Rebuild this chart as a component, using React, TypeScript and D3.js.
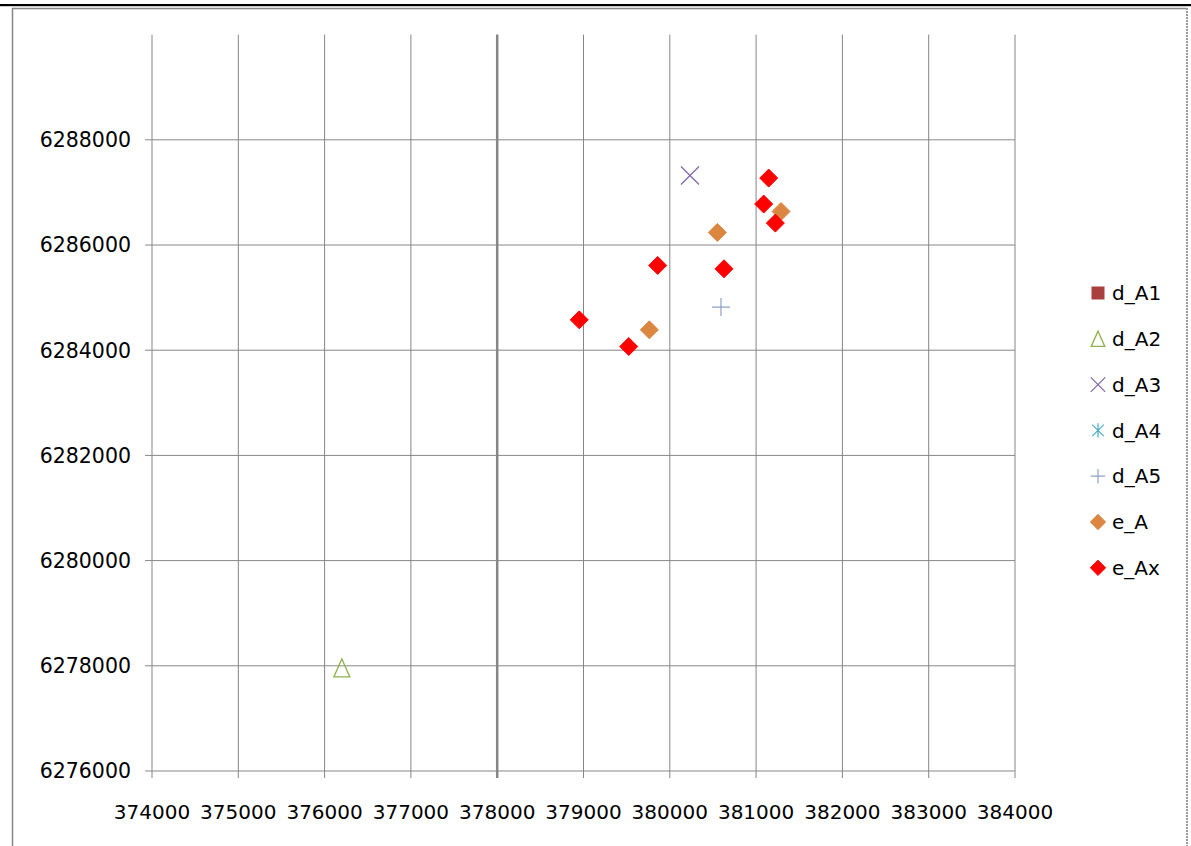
import React from 'react';
import * as d3 from 'd3';

type Pt = [number, number];

const xTicks: number[] = [374000, 375000, 376000, 377000, 378000, 379000, 380000, 381000, 382000, 383000, 384000];
const yTicks: number[] = [6276000, 6278000, 6280000, 6282000, 6284000, 6286000, 6288000];
const xDomain: [number, number] = [374000, 384000];
const yDomain: [number, number] = [6276000, 6290000];

const seriesNames: string[] = ['d_A1', 'd_A2', 'd_A3', 'd_A4', 'd_A5', 'e_A', 'e_Ax'];
const dA1: Pt[] = [];
const dA2: Pt[] = [[376200, 6277960]];
const dA3: Pt[] = [[380234, 6287322]];
const dA4: Pt[] = [];
const dA5: Pt[] = [[380593, 6284819]];
const eA: Pt[] = [[380551, 6286238], [381289, 6286637], [379763, 6284387]];
const eAx: Pt[] = [
  [381146, 6287272], [381088, 6286778], [381223, 6286416], [380628, 6285547],
  [379860, 6285611], [378951, 6284577], [379524, 6284070],
];

const seriesData: Pt[][] = [dA1, dA2, dA3, dA4, dA5, eA, eAx];
const markerKinds = ['square', 'triangle', 'x', 'asterisk', 'plus', 'diamond', 'diamond'];
const markerColors = ['#A9403E', '#8FB14C', '#7D67A6', '#4BACC6', '#8EA2C8', '#DB8742', '#FF0000'];
const legendScale = [1, 0.85, 0.8, 0.8, 0.8, 0.85, 0.85];

const FONT = '"DejaVu Sans", sans-serif';

function Marker({ kind, color, x, y, s }: { kind: string; color: string; x: number; y: number; s: number }) {
  const h = 9 * s;
  const t = `translate(${x},${y})`;
  switch (kind) {
    case 'square':
      return <rect transform={t} x={-6.5 * s} y={-6.5 * s} width={13 * s} height={13 * s} fill={color} />;
    case 'triangle':
      return (
        <path
          transform={t}
          d={`M0,${-h} L${8 * s},${h} L${-8 * s},${h} Z`}
          fill="none"
          stroke={color}
          strokeWidth={1.3}
        />
      );
    case 'x':
      return (
        <path transform={t} d={`M${-h},${-h} L${h},${h} M${-h},${h} L${h},${-h}`} stroke={color} strokeWidth={1.2} fill="none" />
      );
    case 'asterisk':
      return (
        <path
          transform={t}
          d={`M${-h * 0.8},${-h * 0.8} L${h * 0.8},${h * 0.8} M${-h * 0.8},${h * 0.8} L${h * 0.8},${-h * 0.8} M0,${-h} L0,${h}`}
          stroke={color}
          strokeWidth={1.2}
          fill="none"
        />
      );
    case 'plus':
      return <path transform={t} d={`M${-h},0 L${h},0 M0,${-h} L0,${h}`} stroke={color} strokeWidth={1.2} fill="none" />;
    default:
      return (
        <path
          transform={t}
          d={`M0,${-h} L${h},0 L0,${h} L${-h},0 Z`}
          fill={color}
          stroke={color}
          strokeWidth={1}
          strokeLinejoin="round"
        />
      );
  }
}

export default function App() {
  const W = 1191;
  const H = 846;
  const left = 152;
  const right = 1015;
  const top = 34.6;
  const bottom = 771;
  const x = d3.scaleLinear().domain(xDomain).range([left, right]);
  const y = d3.scaleLinear().domain(yDomain).range([bottom, top]);
  const grid = '#868686';
  const fmt = d3.format('d');

  const legendX = 1098;
  const legendY0 = 293;
  const legendStep = 45.8;

  return (
    <svg
      width={W}
      height={H}
      style={{ position: 'absolute', left: 0, top: 0, background: '#fff' }}
      fontFamily={FONT}
    >
      <rect x={0} y={0} width={W} height={H} fill="#fff" />
      {/* top black rule */}
      <rect x={0} y={4} width={W} height={2.2} fill="#000" />
      {/* chart frame */}
      <line x1={12.5} y1={8} x2={12.5} y2={H} stroke={grid} strokeWidth={1.5} />
      <line x1={12} y1={8.5} x2={1187} y2={8.5} stroke={grid} strokeWidth={1.5} />
      <line x1={1187} y1={8} x2={1187} y2={H} stroke="#9a9a9a" strokeWidth={2} strokeDasharray="2,1" />

      {/* horizontal gridlines */}
      {yTicks.map((v) => (
        <line key={'h' + v} x1={left - 7} x2={right} y1={y(v)} y2={y(v)} stroke={grid} strokeWidth={1} />
      ))}
      {/* vertical gridlines */}
      {xTicks.map((v) => (
        <line
          key={'v' + v}
          x1={x(v)}
          x2={x(v)}
          y1={top}
          y2={bottom + 7}
          stroke={grid}
          strokeWidth={v === 378000 ? 2.5 : 1}
        />
      ))}

      {/* y tick labels */}
      {yTicks.map((v) => (
        <text key={'yl' + v} x={131} y={y(v)} dy="0.36em" textAnchor="end" fontSize={20.5} fill="#000">
          {fmt(v)}
        </text>
      ))}
      {/* x tick labels */}
      {xTicks.map((v) => (
        <text key={'xl' + v} x={x(v)} y={818.5} textAnchor="middle" fontSize={20} fill="#000">
          {fmt(v)}
        </text>
      ))}

      {/* data */}
      {seriesData.map((pts, i) =>
        pts.map((p, j) => (
          <Marker key={`m${i}-${j}`} kind={markerKinds[i]} color={markerColors[i]} x={x(p[0])} y={y(p[1])} s={1} />
        ))
      )}

      {/* legend */}
      {seriesNames.map((name, i) => {
        const ly = legendY0 + i * legendStep;
        return (
          <g key={'lg' + name}>
            <Marker kind={markerKinds[i]} color={markerColors[i]} x={legendX} y={ly} s={legendScale[i]} />
            <text x={1112} y={ly} dy="0.36em" fontSize={20} fill="#000">
              {name}
            </text>
          </g>
        );
      })}
    </svg>
  );
}
